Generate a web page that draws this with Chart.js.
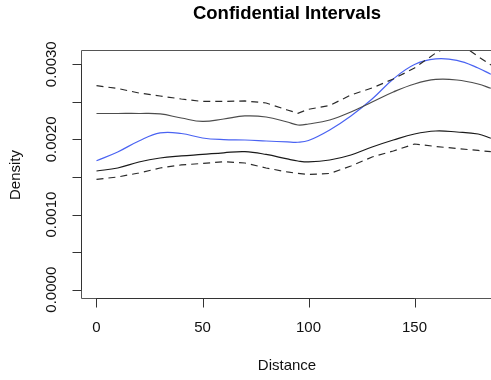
<!DOCTYPE html>
<html>
<head>
<meta charset="utf-8">
<title>Confidential Intervals</title>
<script src="https://cdn.jsdelivr.net/npm/chart.js@4.4.1/dist/chart.umd.min.js"></script>
<style>
  html, body { margin: 0; padding: 0; background: #ffffff; }
  #chart-wrap { width: 491px; height: 380px; }
</style>
</head>
<body>
<div id="chart-wrap"><canvas id="ci-chart" width="491" height="380"></canvas></div>
<script>
const distance = [0, 10, 20, 30, 40, 50, 60, 70, 80, 90, 95, 100, 110, 120, 130, 140, 150, 160, 170, 180, 186];

const densityEstimate = [0.001717, 0.001833, 0.001979, 0.002086, 0.002079, 0.002019, 0.001997, 0.001992, 0.001979, 0.001966, 0.001962, 0.001985, 0.002126, 0.002312, 0.002538, 0.002804, 0.002997, 0.003071, 0.003051, 0.002951, 0.002867];
const upperBand = [0.002345, 0.002345, 0.002345, 0.002339, 0.002285, 0.002239, 0.002272, 0.002312, 0.002298, 0.002232, 0.002192, 0.002205, 0.002259, 0.002365, 0.002498, 0.002631, 0.002738, 0.002798, 0.002791, 0.002738, 0.002681];
const lowerBand = [0.00158, 0.00162, 0.0017, 0.001753, 0.00178, 0.0018, 0.001822, 0.001837, 0.0018, 0.00174, 0.001713, 0.0017, 0.001726, 0.001793, 0.001899, 0.001992, 0.002072, 0.002112, 0.002099, 0.002072, 0.002015];
const upperEnvelope = [0.002715, 0.002678, 0.002618, 0.002578, 0.002538, 0.002505, 0.002505, 0.002512, 0.002485, 0.002392, 0.002348, 0.002401, 0.002452, 0.002591, 0.002685, 0.002804, 0.002951, 0.00315, 0.0033, 0.003104, 0.002991];
const lowerEnvelope = [0.001469, 0.0015, 0.001553, 0.00162, 0.00166, 0.00168, 0.001704, 0.001686, 0.00162, 0.001567, 0.001547, 0.001533, 0.001547, 0.001646, 0.001766, 0.001846, 0.001939, 0.001906, 0.001879, 0.001853, 0.001837];

const xTicks = [0, 50, 100, 150];
const xTickLabels = ['0', '50', '100', '150'];
const yTicks = [0, 0.0005, 0.001, 0.0015, 0.002, 0.0025, 0.003];
const yTickLabels = ['0.0000', '', '0.0010', '', '0.0020', '', '0.0030'];

const chartTitle = 'Confidential Intervals';
const xTitle = 'Distance';
const yTitle = 'Density';

const fontFamily = "'Liberation Sans', Arial, Helvetica, sans-serif";

function toPoints(values) {
  return values.map((v, i) => ({ x: distance[i], y: v }));
}

// R-style frame, axes and labels drawn on top of the library's scales
const baseGraphicsPlugin = {
  id: 'baseGraphics',
  afterDraw(chart) {
    const { ctx, chartArea, scales } = chart;
    const xs = scales.x;
    const ys = scales.y;
    const tickLen = 9;

    ctx.save();
    ctx.lineWidth = 1;

    // plot box (right edge falls outside the picture)
    ctx.strokeStyle = '#555555';
    ctx.beginPath();
    ctx.moveTo(chartArea.right + 10, chartArea.top + 0.5);
    ctx.lineTo(Math.round(chartArea.left) + 0.5, chartArea.top + 0.5);
    ctx.lineTo(Math.round(chartArea.left) + 0.5, Math.round(chartArea.bottom) + 0.5);
    ctx.lineTo(chartArea.right + 10, Math.round(chartArea.bottom) + 0.5);
    ctx.stroke();

    ctx.strokeStyle = '#333333';
    ctx.fillStyle = '#111111';
    ctx.font = `15px ${fontFamily}`;

    // x axis
    const yb = Math.round(chartArea.bottom) + 0.5;
    ctx.beginPath();
    ctx.moveTo(xs.getPixelForValue(xTicks[0]), yb);
    ctx.lineTo(xs.getPixelForValue(xTicks[xTicks.length - 1]), yb);
    xTicks.forEach((v) => {
      const px = Math.round(xs.getPixelForValue(v)) + 0.5;
      ctx.moveTo(px, yb);
      ctx.lineTo(px, yb + tickLen);
    });
    ctx.stroke();
    ctx.textAlign = 'center';
    ctx.textBaseline = 'middle';
    xTicks.forEach((v, i) => {
      ctx.fillText(xTickLabels[i], xs.getPixelForValue(v), chartArea.bottom + 30);
    });

    // y axis
    const xl = Math.round(chartArea.left) + 0.5;
    ctx.beginPath();
    ctx.moveTo(xl, ys.getPixelForValue(yTicks[0]));
    ctx.lineTo(xl, ys.getPixelForValue(yTicks[yTicks.length - 1]));
    yTicks.forEach((v) => {
      const py = Math.round(ys.getPixelForValue(v)) + 0.5;
      ctx.moveTo(xl, py);
      ctx.lineTo(xl - tickLen, py);
    });
    ctx.stroke();
    yTicks.forEach((v, i) => {
      if (!yTickLabels[i]) return;
      ctx.save();
      ctx.translate(chartArea.left - 29, ys.getPixelForValue(v));
      ctx.rotate(-Math.PI / 2);
      ctx.fillText(yTickLabels[i], 0, 0);
      ctx.restore();
    });

    // axis titles
    ctx.fillText(xTitle, 287, 366);
    ctx.save();
    ctx.translate(15.5, 175);
    ctx.rotate(-Math.PI / 2);
    ctx.fillText(yTitle, 0, 0);
    ctx.restore();

    // main title
    ctx.font = `bold 18.5px ${fontFamily}`;
    ctx.fillStyle = '#000000';
    ctx.fillText(chartTitle, 287, 13.5);

    ctx.restore();
  },
};

function buildDataset(label, values, colour, dashed, tension) {
  return {
    label,
    data: toPoints(values),
    borderColor: colour,
    borderWidth: 1.2,
    borderDash: dashed ? [7, 5] : [],
    pointRadius: 0,
    fill: false,
    tension,
  };
}

function initChart() {
  const canvas = document.getElementById('ci-chart');
  new Chart(canvas, {
    type: 'line',
    data: {
      datasets: [
        buildDataset('Upper envelope', upperEnvelope, '#2a2a2a', true, 0),
        buildDataset('Lower envelope', lowerEnvelope, '#2a2a2a', true, 0),
        buildDataset('Upper band', upperBand, '#4d4d4d', false, 0.4),
        buildDataset('Lower band', lowerBand, '#1a1a1a', false, 0.4),
        buildDataset('Density', densityEstimate, '#4a63f2', false, 0.4),
      ],
    },
    plugins: [baseGraphicsPlugin],
    options: {
      responsive: false,
      animation: false,
      devicePixelRatio: 1,
      layout: {
        padding: { left: 81, top: 50, right: 0, bottom: 82.3 },
      },
      scales: {
        x: { type: 'linear', min: -7.31, max: 186.08, display: false },
        y: { type: 'linear', min: -0.0001065, max: 0.00319, display: false },
      },
      plugins: {
        legend: { display: false },
        tooltip: { enabled: false },
        title: { display: false },
      },
    },
  });
}

document.addEventListener('DOMContentLoaded', initChart);
</script>
</body>
</html>
